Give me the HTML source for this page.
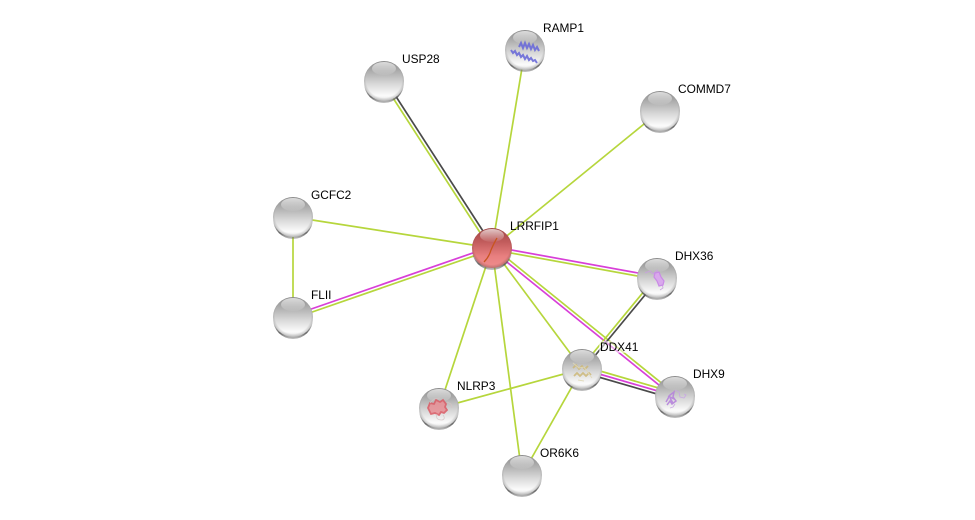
<!DOCTYPE html>
<html>
<head>
<meta charset="utf-8">
<style>
html,body{margin:0;padding:0;background:#fff;width:975px;height:520px;overflow:hidden}
svg{display:block}
text{font-family:"Liberation Sans",Arial,sans-serif;font-size:11.9px;fill:#000}
.g{stroke:#b6d63c;stroke-width:1.700;fill:none}
.m{stroke:#d83fd8;stroke-width:1.700;fill:none}
.k{stroke:#4a4a4a;stroke-width:1.700;fill:none}
</style>
</head>
<body>
<svg width="975" height="520" viewBox="0 0 975 520" xmlns="http://www.w3.org/2000/svg">
<defs>
<linearGradient id="gb" x1="0" y1="0" x2="0" y2="1">
<stop offset="0" stop-color="#8a8a8a"/>
<stop offset=".28" stop-color="#b0b0b0"/>
<stop offset=".6" stop-color="#dcdcdc"/>
<stop offset=".86" stop-color="#fbfbfb"/>
<stop offset="1" stop-color="#e8e8e8"/>
</linearGradient>
<linearGradient id="rb" x1="0" y1="0" x2="0" y2="1">
<stop offset="0" stop-color="#a04444"/>
<stop offset=".35" stop-color="#c25c5c"/>
<stop offset=".7" stop-color="#e87f7f"/>
<stop offset="1" stop-color="#f08e8e"/>
</linearGradient>
<linearGradient id="hl" x1="0" y1="0" x2="0" y2="1">
<stop offset="0" stop-color="#fff" stop-opacity=".7"/>
<stop offset="1" stop-color="#fff" stop-opacity=".05"/>
</linearGradient>
<radialGradient id="rim" cx=".5" cy=".46" r=".55">
<stop offset=".82" stop-color="#000" stop-opacity="0"/>
<stop offset="1" stop-color="#000" stop-opacity=".24"/>
</radialGradient>
<linearGradient id="sh" x1="0" y1="0" x2="0" y2="1">
<stop offset=".5" stop-color="#555" stop-opacity="0"/>
<stop offset=".85" stop-color="#555" stop-opacity=".9"/>
<stop offset="1" stop-color="#777" stop-opacity=".45"/>
</linearGradient>
<g id="ball">
<circle cx="0" cy="2" r="20" fill="url(#sh)"/>
<circle cx="0" cy="0" r="20" fill="url(#gb)"/>
<circle cx="0" cy="0" r="20" fill="url(#rim)"/>
<ellipse cx="0" cy="-12.500" rx="12" ry="6.500" fill="url(#hl)"/>
</g>
<g id="ballr">
<circle cx="0" cy="2" r="20" fill="url(#sh)"/>
<circle cx="0" cy="0" r="20" fill="url(#rb)"/>
<circle cx="0" cy="0" r="20" fill="url(#rim)"/>
<ellipse cx="0" cy="-12.500" rx="12" ry="6.500" fill="url(#hl)"/>
</g>
</defs>

<!-- edges -->
<line class="g" x1="492" y1="248" x2="525" y2="50"/>
<line class="g" x1="492" y1="248" x2="660" y2="111"/>
<line class="g" x1="492" y1="248" x2="293" y2="217"/>
<line class="g" x1="293" y1="217" x2="293" y2="317"/>
<line class="g" x1="492" y1="248" x2="439" y2="408"/>
<line class="g" x1="492" y1="248" x2="522" y2="475"/>
<line class="g" x1="492" y1="248" x2="582" y2="369"/>
<line class="g" x1="582" y1="369" x2="439" y2="408"/>
<line class="g" x1="582" y1="369" x2="522" y2="475"/>

<line class="g" x1="490.700" y1="249" x2="382.700" y2="82"/>
<line class="k" x1="493.300" y1="247" x2="385.300" y2="80"/>

<line class="m" x1="491.500" y1="246.500" x2="292.500" y2="315.500"/>
<line class="g" x1="492.500" y1="249.500" x2="293.500" y2="318.500"/>

<line class="m" x1="492.300" y1="246.500" x2="657.300" y2="276.500"/>
<line class="g" x1="491.700" y1="249.500" x2="656.700" y2="279.500"/>

<line class="g" x1="493" y1="246.800" x2="676" y2="394.800"/>
<line class="m" x1="491" y1="249.200" x2="674" y2="397.200"/>

<line class="g" x1="580.800" y1="368" x2="655.800" y2="277"/>
<line class="k" x1="583.200" y1="370" x2="658.200" y2="279"/>

<line class="g" x1="582.800" y1="366" x2="675.800" y2="393"/>
<line class="m" x1="582" y1="369" x2="675" y2="396"/>
<line class="k" x1="581.200" y1="372" x2="674.200" y2="399"/>

<!-- nodes -->
<use href="#ball" x="525" y="50"/>
<use href="#ball" x="384" y="81"/>
<use href="#ball" x="660" y="111"/>
<use href="#ball" x="293" y="217"/>
<use href="#ball" x="293" y="317"/>
<use href="#ball" x="657" y="278"/>
<use href="#ball" x="582" y="369"/>
<use href="#ball" x="675" y="396"/>
<use href="#ball" x="439" y="408"/>
<use href="#ball" x="522" y="475"/>
<use href="#ballr" x="492" y="248"/>

<!-- structures -->
<path d="M484 262 Q489 257 491 250 Q494 243 497 238" stroke="#c8551f" stroke-width="1.300" fill="none"/>
<g fill="none" stroke="#6a6ad8" stroke-opacity=".9">
<path d="M519 47 l2 -4 l2 5 l2 -5 l2 5 l2 -4 l2 5 l2 -4 l2 5 l2 -3 l2 4" stroke-width="2"/>
<path d="M511 50 l2 3 l2 -2 l2 4 l2 -2 l2 4 l2 -2 l2 4 l2 -3 l2 4 l2 -2 l2 3 l2 -1 l2 3" stroke-width="2"/>
</g>
<g fill="none">
<path d="M645 273 l5 -2 l3 3 l4 -4 l2 6 l-2 4 l5 3 l1 5 l-3 2" stroke="#c9a0e0" stroke-width=".8"/>
<path d="M655 273 l4 -1 l2 5 l3 4 l-1 4 l-4 1 l-2 -5 l-3 -4z" stroke="#c98ae6" stroke-width="1.200" fill="#d9a8ec"/>
</g>
<g fill="none" opacity=".85">
<path d="M573 368 l3 -3 l3 4 l3 -3 l3 3 l3 -3 M574 376 l3 -3 l3 3 l3 -3 l3 3 l3 -3 l2 2" stroke="#cdb878" stroke-width="1.800"/>
<path d="M573 363 l6 5 l5 -1 l5 7 l3 4 M578 380 l6 1" stroke="#e0d8b4" stroke-width="1"/>
</g>
<g fill="none" opacity=".9">
<path d="M666 402 l4 -7 l4 -3 l-1 5 l3 4 l-4 3 l-2 -3 l-3 4 M670 398 l3 5 M668 396 l6 3" stroke="#b684dc" stroke-width="1.500"/>
<path d="M675 390 l4 2 l1 5 l4 1 l2 -3 l-2 -1 M670 408 l3 -1 l2 -3" stroke="#c8a6e4" stroke-width=".9"/>
</g>
<g fill="none" opacity=".85">
<path d="M428 408 l2 -5 l4 1 l2 -4 l4 2 l3 -2 l3 4 l-1 3 l2 3 l-3 3 l-3 -1 l-2 3 l-4 -2 l-4 1 z" stroke="#dc5a64" stroke-width="1.800" fill="#e88f95"/>
<path d="M437 414 q-2 6 5 6 q4 -1 1 -5 M447 402 l4 2 l1 4 M430 403 l4 -4 l6 -1" stroke="#d4c4c4" stroke-width=".8"/>
</g>

<!-- labels -->
<text x="510" y="230">LRRFIP1</text>
<text x="543" y="32">RAMP1</text>
<text x="402" y="63">USP28</text>
<text x="678" y="93">COMMD7</text>
<text x="311" y="199">GCFC2</text>
<text x="311" y="299">FLII</text>
<text x="675" y="260">DHX36</text>
<rect x="599" y="341" width="40" height="12" fill="#fff" fill-opacity=".55"/>
<text x="600" y="351">DDX41</text>
<text x="693" y="378">DHX9</text>
<text x="457" y="390">NLRP3</text>
<text x="540" y="457">OR6K6</text>
</svg>
</body>
</html>
